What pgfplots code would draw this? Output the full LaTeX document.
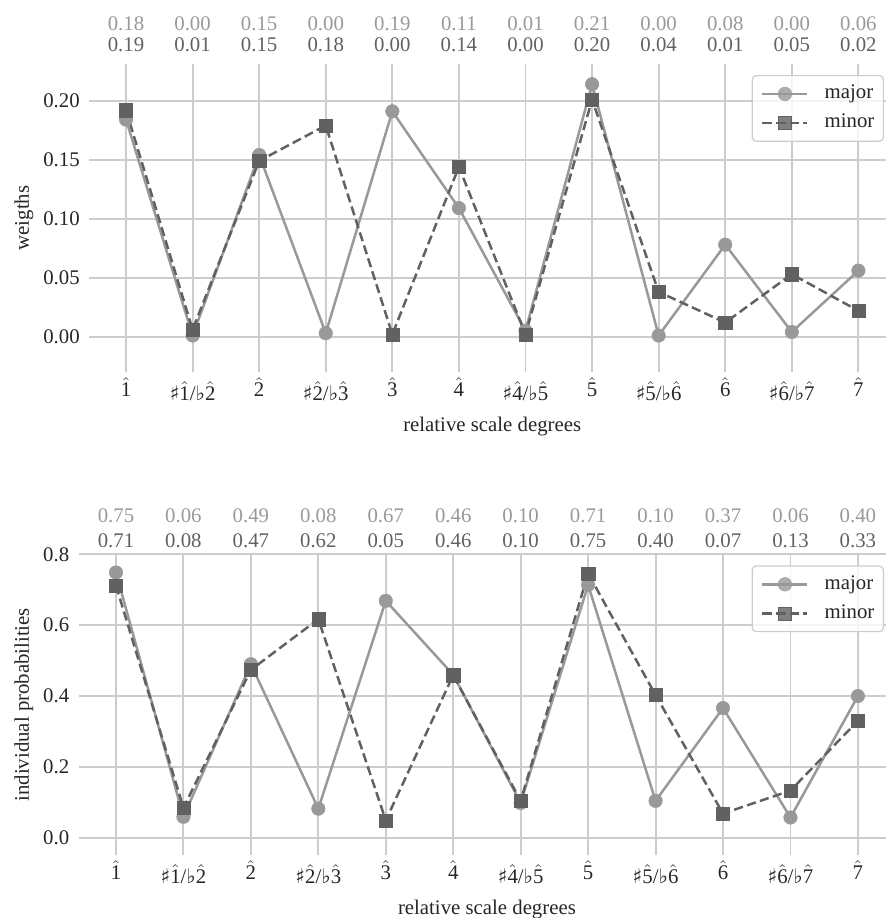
\documentclass[border=0pt]{standalone}
\usepackage{fontspec}
\setmainfont{Liberation Serif}
\newfontfamily\symfont{DejaVu Serif}
\usepackage{pgfplots}
\usepackage{pgfplotstable}
\pgfplotsset{compat=1.18}

\definecolor{majorc}{gray}{0.6}
\definecolor{minorc}{gray}{0.38}
\definecolor{gridc}{gray}{0.8}
\definecolor{textc}{gray}{0.15}

% scale degree with a caret, sharp and flat signs
\newcommand{\sd}[1]{$\hat{\mbox{#1}}$}
\newcommand{\sh}{{\symfont\fontsize{10}{10}\selectfont ♯}}
\newcommand{\fl}{{\symfont\fontsize{10}{10}\selectfont ♭}}
\newcommand{\low}[1]{\raisebox{-2pt}{#1}}

\pgfkeys{/pgf/number format/assume math mode=true}

% profile weights
\pgfplotstableread{
i major  minor
0 0.184  0.192
1 0.001  0.006
2 0.154  0.149
3 0.003  0.179
4 0.191  0.002
5 0.109  0.144
6 0.0051 0.002
7 0.214  0.201
8 0.001  0.038
9 0.078  0.012
10 0.004 0.053
11 0.056 0.022
}\weights

% individual probabilities
\pgfplotstableread{
i major minor
0 0.749 0.712
1 0.059 0.084
2 0.490 0.474
3 0.082 0.617
4 0.669 0.049
5 0.460 0.459
6 0.098 0.104
7 0.714 0.746
8 0.104 0.403
9 0.366 0.068
10 0.057 0.133
11 0.400 0.330
}\probs

\pgfplotsset{
  profile/.style={
    scale only axis, clip=false,
    axis line style={draw=none},
    major tick length=0pt,
    xmajorgrids, ymajorgrids,
    grid style={gridc, line width=0.95pt},
    xmin=-0.55, xmax=11.55,
    xtick={0,...,11},
    xticklabels={{\sd1},{\low{\sh\sd1/\fl\sd2}},{\sd2},{\low{\sh\sd2/\fl\sd3}},{\sd3},{\sd4},
      {\low{\sh\sd4/\fl\sd5}},{\sd5},{\low{\sh\sd5/\fl\sd6}},{\sd6},{\low{\sh\sd6/\fl\sd7}},{\sd7}},
    scaled y ticks=false,
    tick label style={text=textc},
    x tick label style={anchor=base, yshift=-12.4pt},
    y tick label style={anchor=east, xshift=-1.2pt},
    xlabel={relative scale degrees},
    xlabel style={at={(rel axis cs:0.5,0)}, anchor=base, yshift=-29.7pt, text=textc},
    ylabel style={anchor=center, text=textc},
    legend cell align=left,
    legend image code/.code={\draw[mark repeat=2,mark phase=2,##1]
      plot coordinates {(0pt,0pt) (11.25pt,0pt) (22.5pt,0pt)};},
    legend style={at={(rel axis cs:1,1)}, anchor=north east,
      xshift=-5.5pt, yshift=-5.5pt,
      draw=gridc, line width=0.6pt, rounded corners=2pt,
      fill=white, fill opacity=0.8, text opacity=1, text=textc,
      inner xsep=4.5pt, inner ysep=4.6pt, row sep=5.4pt,
      nodes={inner sep=0pt, text height=6.9pt, text depth=2.2pt},
      /tikz/every odd column/.style={column sep=8pt}},
  },
  majorline/.style={majorc, line width=1.25pt, mark=*, mark size=3.4pt,
    mark options={solid, fill=majorc, draw=majorc, line width=0.2pt}},
  minorline/.style={minorc, line width=1.25pt, dash pattern=on 4.6pt off 2.2pt,
    mark=square*, mark size=3.3pt, mark options={solid, fill=minorc, draw=minorc, line width=0.2pt}},
  valuerow/.style n args={3}{forget plot, draw=none, point meta=explicit,
    nodes near coords={\pgfmathprintnumber[fixed,fixed zerofill,precision=2]{\pgfplotspointmeta}},
    every node near coord/.style={anchor=center, yshift=#2, text=#3}},
}

\begin{document}
\fontsize{10.4}{12.5}\selectfont
\begin{tikzpicture}
\useasboundingbox (0,0) rectangle (443pt,-459pt);

\begin{axis}[profile,
  at={(44.7pt,-32pt)}, anchor=north west,
  width=402.8pt, height=154pt,
  ymin=-0.0299, ymax=0.2311,
  ytick={0,0.05,0.1,0.15,0.2},
  yticklabel style={/pgf/number format/.cd, fixed, fixed zerofill, precision=2},
  ylabel={weigths},
  ylabel style={at={(rel axis cs:-0.0812,0.5)}},
]
\addplot[majorline] table[x=i, y=major] {\weights};
\addlegendentry{major}
\addplot[minorline] table[x=i, y=minor] {\weights};
\addlegendentry{minor}
\addplot[valuerow={}{20.25pt}{majorc}] table[x=i, y expr=0.2311, meta=major] {\weights};
\addplot[valuerow={}{9.5pt}{minorc}] table[x=i, y expr=0.2311, meta=minor] {\weights};
\end{axis}

\begin{axis}[profile,
  at={(39.45pt,-277.2pt)}, anchor=north west,
  width=408.05pt, height=150.3pt,
  ymin=-0.0489, ymax=0.8,
  ytick={0,0.2,0.4,0.6,0.8},
  yticklabel style={/pgf/number format/.cd, fixed, fixed zerofill, precision=1},
  ylabel={individual probabilities},
  ylabel style={at={(rel axis cs:-0.0673,0.5)}},
]
\addplot[majorline] table[x=i, y=major] {\probs};
\addlegendentry{major}
\addplot[minorline] table[x=i, y=minor] {\probs};
\addlegendentry{minor}
\addplot[valuerow={}{19.2pt}{majorc}] table[x=i, y expr=0.8, meta=major] {\probs};
\addplot[valuerow={}{6.95pt}{minorc}] table[x=i, y expr=0.8, meta=minor] {\probs};
\end{axis}
\end{tikzpicture}
\end{document}
